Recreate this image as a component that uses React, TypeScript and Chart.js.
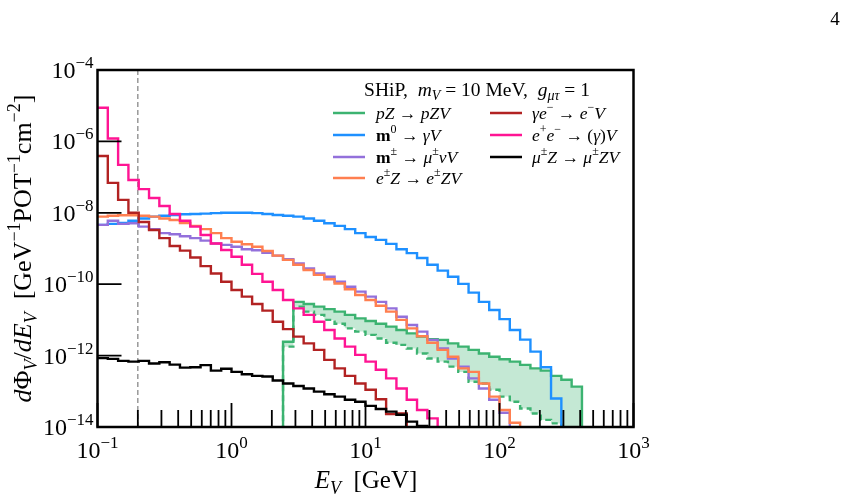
import React, { useEffect, useRef } from "react";
import { Chart, registerables } from "chart.js";

Chart.register(...registerables);

// Histogram binning: 13 logarithmic bins per decade, 0.1 GeV .. 1 TeV
const E_MIN = 0.1;
const BINS_PER_DECADE = 13;
const N_BINS = 52;
const BIN_EDGES = Array.from({ length: N_BINS + 1 }, (_, k) => E_MIN * Math.pow(10, k / BINS_PER_DECADE));

// Beam-dump acceptance threshold (vertical dashed line)
const E_THRESHOLD = 0.2;

// Axis ticks
const X_MAJOR = [0.1, 1, 10, 100, 1000];
const X_EXP = ["\u22121", "0", "1", "2", "3"];
const Y_MAJOR = [1e-4, 1e-6, 1e-8, 1e-10, 1e-12, 1e-14];
const Y_EXP = ["\u22124", "\u22126", "\u22128", "\u221210", "\u221212", "\u221214"];
const X_MIN = 0.1;
const X_MAX = 1000;
const Y_MIN = 1e-14;
const Y_MAX = 1e-4;

// Per-bin fluxes dPhi/dE [GeV^-1 POT^-1 cm^-2]; each series starts at the given bin index
const PZ_START = 18;
const PZ_UPPER = [
  2.45e-12, 3.2e-11, 2.8e-11, 2.35e-11, 2.0e-11, 1.7e-11, 1.38e-11, 1.1e-11, 9.3e-12, 7.8e-12,
  6.5e-12, 5.2e-12, 4.2e-12, 3.4e-12, 2.9e-12, 2.75e-12, 2.2e-12, 1.78e-12, 1.45e-12, 1.15e-12,
  9.3e-13, 7.9e-13, 6.8e-13, 5.5e-13, 4.4e-13, 3.8e-13, 2.7e-13, 2.1e-13, 1.35e-13,
];
const PZ_LOWER = [
  1.78e-12, 2.35e-11, 1.7e-11, 1.38e-11, 1.0e-11, 7.8e-12, 5.8e-12, 4.7e-12, 3.8e-12, 3.0e-12,
  2.3e-12, 2.0e-12, 1.58e-12, 1.15e-12, 8.3e-13, 6.8e-13, 4.9e-13, 3.5e-13, 1.86e-13, 1.66e-13,
  1.1e-13, 7.1e-14, 5.1e-14, 3.3e-14, 2.4e-14, 1.58e-14, 1.26e-14, 5e-15, 3e-15,
];
const PI0_START = 0;
const PI0 = [
  4.6e-9, 4.9e-9, 5.2e-9, 6.0e-9, 6.9e-9, 7.8e-9, 8.3e-9, 8.7e-9, 9.1e-9, 9.3e-9,
  9.5e-9, 9.8e-9, 1.0e-8, 1.0e-8, 1.0e-8, 9.8e-9, 9.3e-9, 8.7e-9, 8.3e-9, 7.8e-9,
  6.9e-9, 6.0e-9, 5.1e-9, 4.3e-9, 3.5e-9, 2.7e-9, 2.1e-9, 1.74e-9, 1.35e-9, 9.5e-10,
  7.4e-10, 5.4e-10, 3.5e-10, 2.4e-10, 1.62e-10, 1.02e-10, 5.8e-11, 3.2e-11, 1.9e-11, 1.05e-11,
  5.2e-12, 2.8e-12, 1.29e-12, 4.7e-13, 6.3e-14,
];
const PIPM_START = 0;
const PIPM = [
  4.6e-9, 6.0e-9, 4.9e-9, 5.1e-9, 4.1e-9, 3.5e-9, 2.7e-9, 2.5e-9, 2.2e-9, 1.95e-9,
  1.66e-9, 1.38e-9, 1.26e-9, 1.12e-9, 9.5e-10, 8.9e-10, 7.6e-10, 6.3e-10, 5.0e-10, 3.8e-10,
  2.75e-10, 2.0e-10, 1.62e-10, 1.17e-10, 8.5e-11, 6.2e-11, 4.5e-11, 3.2e-11, 2.1e-11, 1.23e-11,
  7.2e-12, 4.7e-12, 2.75e-12, 1.58e-12, 8.3e-13, 4.9e-13, 2.3e-13, 1.2e-13, 5.8e-14, 2.5e-14,
];
const EZ_START = 0;
const EZ = [
  7.8e-9, 8.3e-9, 8.5e-9, 8.5e-9, 8.3e-9, 7.8e-9, 6.9e-9, 6.3e-9, 5.2e-9, 4.3e-9,
  3.5e-9, 2.7e-9, 1.95e-9, 1.55e-9, 1.32e-9, 1.12e-9, 8.5e-10, 6.3e-10, 4.8e-10, 3.5e-10,
  2.5e-10, 1.82e-10, 1.38e-10, 1.05e-10, 7.2e-11, 5.0e-11, 3.6e-11, 2.5e-11, 1.7e-11, 1.0e-11,
  5.8e-12, 3.5e-12, 2.3e-12, 1.45e-12, 9.3e-13, 4.4e-13, 3.5e-13, 1.66e-13, 7.1e-14, 3.0e-14,
  1.32e-14,
];
const GE_START = 0;
const GE = [
  3.9e-7, 6.9e-8, 2.3e-8, 1.0e-8, 5.5e-9, 3.3e-9, 1.95e-9, 1.17e-9, 8.7e-10, 5.6e-10,
  3.2e-10, 2.0e-10, 1.17e-10, 6.9e-11, 4.5e-11, 2.8e-11, 1.82e-11, 8.9e-12, 5.5e-12, 3.4e-12,
  2.2e-12, 1.45e-12, 7.6e-13, 4.4e-13, 2.7e-13, 1.66e-13, 1.1e-13, 6.0e-14, 2.3e-14, 2.4e-14,
];
const EE_START = 0;
const EE = [
  8.8e-6, 1.2e-6, 2.2e-7, 8.3e-8, 4.6e-8, 2.6e-8, 1.55e-8, 9.3e-9, 6.0e-9, 4.1e-9,
  2.4e-9, 1.38e-9, 9.1e-10, 5.9e-10, 3.5e-10, 1.95e-10, 1.17e-10, 6.9e-11, 3.6e-11, 2.1e-11,
  1.38e-11, 8.9e-12, 5.2e-12, 3.0e-12, 1.78e-12, 1.05e-12, 6.8e-13, 4.0e-13, 2.3e-13, 1.2e-13,
  5.8e-14, 3.0e-14, 1.74e-14,
];
const MUZ_START = 0;
const MUZ = [
  8.5e-13, 8.1e-13, 7.1e-13, 6.8e-13, 7.1e-13, 6.0e-13, 6.5e-13, 5.6e-13, 4.6e-13, 4.7e-13,
  5.4e-13, 3.8e-13, 4.3e-13, 3.5e-13, 3.0e-13, 2.7e-13, 2.6e-13, 2.0e-13, 1.66e-13, 1.41e-13,
  1.2e-13, 9.8e-14, 8.3e-14, 7.1e-14, 5.8e-14, 5.1e-14, 3.9e-14, 3.2e-14, 2.7e-14, 2.2e-14,
  1.41e-14, 1.07e-14,
];

const GREEN = "#3cb371";
const GREEN_FILL = "rgba(60,179,113,0.3)";
const BLUE = "#1e90ff";
const PURPLE = "#9370db";
const ORANGE = "#ff7f50";
const DARKRED = "#b22222";
const PINK = "#ff1493";
const BLACK = "#000000";

// value used to close a histogram outline down to (below) the axis floor
const FLOOR = 1e-20;

function histPoints(start: number, values: number[]) {
  // a series that begins inside the plot rises from the floor; one that begins at the axis edge does not
  const pts = start > 0 ? [{ x: BIN_EDGES[start], y: FLOOR }] : [];
  values.forEach((v, i) => pts.push({ x: BIN_EDGES[start + i], y: v }));
  pts.push({ x: BIN_EDGES[start + values.length], y: FLOOR });
  return pts;
}

type Style = "r" | "i" | "b";
type Pos = "base" | "sup" | "sub";
type Run = [string, Style?, Pos?];

const SERIF = '"Liberation Serif", "DejaVu Serif", serif';

function fontFor(style: Style, size: number) {
  const s = style === "i" ? "italic " : style === "b" ? "bold " : "";
  return `${s}${size}px ${SERIF}`;
}

function runSize(pos: Pos, size: number) {
  return pos === "base" ? size : Math.round(size * 0.7);
}

function runsWidth(ctx: CanvasRenderingContext2D, runs: Run[], size: number) {
  let w = 0;
  for (const [t, st = "r", pos = "base"] of runs) {
    ctx.font = fontFor(st, runSize(pos, size));
    w += ctx.measureText(t).width;
  }
  return w;
}

function drawRuns(
  ctx: CanvasRenderingContext2D,
  runs: Run[],
  x: number,
  y: number,
  size: number,
  align: "left" | "center" | "right"
) {
  const w = runsWidth(ctx, runs, size);
  let cx = align === "center" ? x - w / 2 : align === "right" ? x - w : x;
  ctx.textAlign = "left";
  ctx.textBaseline = "alphabetic";
  for (const [t, st = "r", pos = "base"] of runs) {
    const dy = pos === "sup" ? -size * 0.42 : pos === "sub" ? size * 0.22 : 0;
    ctx.font = fontFor(st, runSize(pos, size));
    ctx.fillText(t, cx, y + dy);
    cx += ctx.measureText(t).width;
  }
}

const LEGEND_TITLE: Run[] = [
  ["SHiP,  "],
  ["m", "i"],
  ["V", "i", "sub"],
  [" = 10 MeV,  "],
  ["g", "i"],
  ["\u03bc\u03c4", "i", "sub"],
  [" = 1"],
];

const LEGEND_ITEMS: { color: string; col: number; row: number; runs: Run[] }[] = [
  { color: GREEN, col: 0, row: 0, runs: [["pZ", "i"], [" \u2192 "], ["pZV", "i"]] },
  { color: BLUE, col: 0, row: 1, runs: [["m", "b"], ["0", "r", "sup"], [" \u2192 "], ["\u03b3V", "i"]] },
  {
    color: PURPLE, col: 0, row: 2,
    runs: [["m", "b"], ["\u00b1", "r", "sup"], [" \u2192 "], ["\u03bc", "i"], ["\u00b1", "r", "sup"], ["\u03bdV", "i"]],
  },
  {
    color: ORANGE, col: 0, row: 3,
    runs: [["e", "i"], ["\u00b1", "r", "sup"], ["Z", "i"], [" \u2192 "], ["e", "i"], ["\u00b1", "r", "sup"], ["ZV", "i"]],
  },
  {
    color: DARKRED, col: 1, row: 0,
    runs: [["\u03b3e", "i"], ["\u2212", "r", "sup"], [" \u2192 "], ["e", "i"], ["\u2212", "r", "sup"], ["V", "i"]],
  },
  {
    color: PINK, col: 1, row: 1,
    runs: [["e", "i"], ["+", "r", "sup"], ["e", "i"], ["\u2212", "r", "sup"], [" \u2192 ("], ["\u03b3", "i"], [")"], ["V", "i"]],
  },
  {
    color: BLACK, col: 1, row: 2,
    runs: [["\u03bc", "i"], ["\u00b1", "r", "sup"], ["Z", "i"], [" \u2192 "], ["\u03bc", "i"], ["\u00b1", "r", "sup"], ["ZV", "i"]],
  },
];

const Y_TITLE: Run[] = [
  ["d", "i"], ["\u03a6"], ["V", "i", "sub"], ["/"], ["dE", "i"], ["V", "i", "sub"],
  ["  [GeV"], ["\u22121", "r", "sup"], ["POT"], ["\u22121", "r", "sup"], ["cm"], ["\u22122", "r", "sup"], ["]"],
];
const X_TITLE: Run[] = [["E", "i"], ["V", "i", "sub"], ["  [GeV]"]];

const paperAxes = {
  id: "paperAxes",
  beforeDatasetsDraw(chart: any) {
    const { ctx, chartArea, scales } = chart;
    const x = scales.x.getPixelForValue(E_THRESHOLD);
    ctx.save();
    ctx.strokeStyle = "#7f7f7f";
    ctx.lineWidth = 1.2;
    ctx.setLineDash([5, 3]);
    ctx.beginPath();
    ctx.moveTo(x, chartArea.top);
    ctx.lineTo(x, chartArea.bottom);
    ctx.stroke();
    ctx.restore();
  },
  afterDatasetsDraw(chart: any) {
    const { ctx, chartArea, scales } = chart;
    const { left, right, top, bottom } = chartArea;
    ctx.save();
    ctx.fillStyle = "#000";
    ctx.strokeStyle = "#000";

    // inward ticks
    ctx.lineWidth = 1.8;
    ctx.beginPath();
    for (let d = -1; d < 3; d++) {
      for (let m = 2; m <= 9; m++) {
        const px = scales.x.getPixelForValue(m * Math.pow(10, d));
        ctx.moveTo(px, bottom);
        ctx.lineTo(px, bottom - 17);
      }
    }
    X_MAJOR.forEach((v) => {
      const px = scales.x.getPixelForValue(v);
      ctx.moveTo(px, bottom);
      ctx.lineTo(px, bottom - 24);
    });
    Y_MAJOR.forEach((v) => {
      const py = scales.y.getPixelForValue(v);
      ctx.moveTo(left, py);
      ctx.lineTo(left + 24, py);
    });
    ctx.stroke();

    // frame
    ctx.lineWidth = 2.5;
    ctx.strokeRect(left, top, right - left, bottom - top);

    // tick labels
    X_MAJOR.forEach((v, i) => {
      drawRuns(ctx, [["10"], [X_EXP[i], "r", "sup"]], scales.x.getPixelForValue(v), bottom + 31, 24, "center");
    });
    Y_MAJOR.forEach((v, i) => {
      drawRuns(ctx, [["10"], [Y_EXP[i], "r", "sup"]], left - 4, scales.y.getPixelForValue(v) + 8, 24, "right");
    });

    // axis titles
    drawRuns(ctx, X_TITLE, 366, 488, 25, "center");
    ctx.save();
    ctx.translate(31, (top + bottom) / 2);
    ctx.rotate(-Math.PI / 2);
    drawRuns(ctx, Y_TITLE, 0, 0, 26, "center");
    ctx.restore();

    // legend
    drawRuns(ctx, LEGEND_TITLE, 477, 96, 19.5, "center");
    const rowY = [113, 135, 157, 178];
    const lineX = [333, 490];
    const textX = [376, 532];
    LEGEND_ITEMS.forEach((it) => {
      const y = rowY[it.row];
      ctx.strokeStyle = it.color;
      ctx.lineWidth = 2.5;
      ctx.beginPath();
      ctx.moveTo(lineX[it.col], y);
      ctx.lineTo(lineX[it.col] + 32, y);
      ctx.stroke();
      ctx.fillStyle = "#000";
      drawRuns(ctx, it.runs, textX[it.col], y + 5.5, 17.5, "left");
    });

    // page number
    drawRuns(ctx, [["4"]], 835, 25, 19, "center");
    ctx.restore();
  },
};

function lineSet(label: string, color: string, start: number, values: number[], order: number, extra: any = {}) {
  return {
    label,
    data: histPoints(start, values),
    borderColor: color,
    backgroundColor: color,
    borderWidth: 2.4,
    pointRadius: 0,
    stepped: "before",
    fill: false,
    order,
    ...extra,
  };
}

export default function App() {
  const ref = useRef<HTMLCanvasElement>(null);

  useEffect(() => {
    const chart = new Chart(ref.current as HTMLCanvasElement, {
      type: "line",
      data: {
        datasets: [
          lineSet("pZ upper", GREEN, PZ_START, PZ_UPPER, 20, { fill: 1, backgroundColor: GREEN_FILL }),
          lineSet("pZ lower", GREEN, PZ_START, PZ_LOWER, 19, { borderDash: [6, 4] }),
          lineSet("pi0", BLUE, PI0_START, PI0, 18),
          lineSet("pi+-", PURPLE, PIPM_START, PIPM, 17),
          lineSet("eZ", ORANGE, EZ_START, EZ, 16),
          lineSet("gamma e", DARKRED, GE_START, GE, 15),
          lineSet("e+e-", PINK, EE_START, EE, 14),
          lineSet("muZ", BLACK, MUZ_START, MUZ, 13),
        ] as any,
      },
      options: {
        animation: false,
        responsive: false,
        devicePixelRatio: 1,
        layout: { padding: { left: 97.5, right: 209.5, top: 70, bottom: 69 } },
        scales: {
          x: { type: "logarithmic", min: X_MIN, max: X_MAX, display: false },
          y: { type: "logarithmic", min: Y_MIN, max: Y_MAX, display: false },
        },
        plugins: {
          legend: { display: false },
          tooltip: { enabled: false },
          filler: { drawTime: "beforeDatasetsDraw" },
        },
      } as any,
      plugins: [paperAxes],
    });
    return () => chart.destroy();
  }, []);

  return (
    <div style={{ position: "fixed", left: 0, top: 0, width: 843, height: 496, background: "#fff" }}>
      <canvas ref={ref} width={843} height={496} style={{ display: "block" }} />
    </div>
  );
}
